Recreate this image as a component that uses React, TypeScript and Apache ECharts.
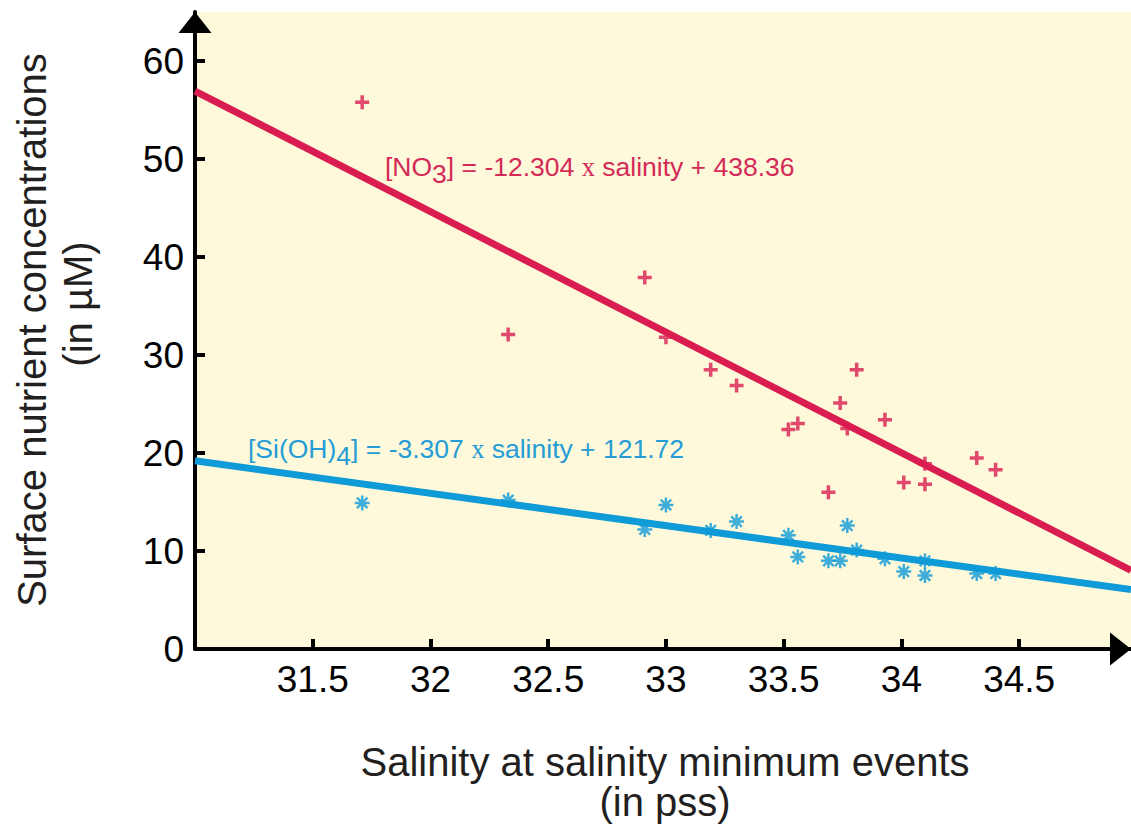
import React, { useEffect, useRef } from 'react';
import * as echarts from 'echarts';

// Salinity at salinity minimum events (pss)
const salinity = [31.71, 32.33, 32.91, 33.0, 33.19, 33.3, 33.52, 33.56, 33.69, 33.74, 33.77, 33.81, 33.93, 34.01, 34.1, 34.1, 34.32, 34.4];
// [NO3] (µM)
const no3 = [55.8, 32.1, 37.9, 31.8, 28.5, 26.9, 22.4, 23.0, 16.0, 25.1, 22.5, 28.5, 23.4, 17.0, 18.9, 16.8, 19.5, 18.3];
// [Si(OH)4] (µM)
const sioh4 = [14.9, 15.2, 12.2, 14.7, 12.1, 13.0, 11.6, 9.4, 9.0, 9.0, 12.6, 10.1, 9.2, 7.9, 9.0, 7.5, 7.7, 7.7];

// Regression coefficients as printed on the chart
const NO3_SLOPE = -12.304;
const NO3_INTERCEPT = 438.36;
const SI_SLOPE = -3.307;
const SI_INTERCEPT = 121.72;

const xTicks = [31.5, 32, 32.5, 33, 33.5, 34, 34.5];
const yTicks = [0, 10, 20, 30, 40, 50, 60];
const X_MIN = 31;
const X_MAX = 34.975;
const Y_MIN = 0;
const Y_MAX = 65;

const RED = '#DA1D50';
const RED_TEXT = '#D42A58';
const BLUE = '#0F9AD8';
const BLUE_TEXT = '#259CD6';
const BG = '#FEF9DA';
const INK = '#231F20';

const PLUS = 'path://M5,0L5,10M0,5L10,5';
const STAR = 'path://M5,0L5,10M0,5L10,5M1.5,1.5L8.5,8.5M8.5,1.5L1.5,8.5';

export default function App() {
  const ref = useRef<HTMLDivElement>(null);
  useEffect(() => {
    if (!ref.current) return;
    const chart = echarts.init(ref.current, null, { renderer: 'svg' });
    const fit = (m: number, b: number) => [X_MIN, X_MAX].map((x) => [x, m * x + b]);
    const eqRich = (color: string) => ({
      a: { fontSize: 26.5, fontFamily: 'Liberation Sans, Arial, sans-serif', fill: color },
      s: { fontSize: 26.5, fontFamily: 'Liberation Sans, Arial, sans-serif', fill: color, padding: [14, 0, 0, 0] },
      x: { fontSize: 26.5, fontFamily: 'Liberation Serif, Times New Roman, serif', fill: color },
    });
    const titleFont = 'Liberation Sans, Arial, sans-serif';
    const axisLine = {
      lineStyle: { color: '#000', width: 4 },
      symbol: ['none', 'triangle'],
      symbolSize: [33, 21],
      symbolOffset: [0, -10.5],
    };
    chart.setOption({
      animation: false,
      grid: {
        left: 195,
        right: 0,
        top: 12,
        bottom: 178,
        show: true,
        backgroundColor: BG,
        borderWidth: 0,
      },
      xAxis: {
        type: 'value',
        min: X_MIN,
        max: X_MAX,
        splitLine: { show: false },
        axisLine,
        axisTick: { inside: true, length: 10, lineStyle: { color: '#000', width: 4 }, customValues: xTicks },
        axisLabel: {
          customValues: xTicks,
          fontSize: 37,
          color: '#000',
          fontFamily: 'Liberation Sans, Arial, sans-serif',
          margin: 12,
        },
      },
      yAxis: {
        type: 'value',
        min: Y_MIN,
        max: Y_MAX,
        splitLine: { show: false },
        axisLine,
        axisTick: { inside: true, length: 10, lineStyle: { color: '#000', width: 4 }, customValues: yTicks },
        axisLabel: {
          customValues: yTicks,
          fontSize: 37,
          color: '#000',
          fontFamily: 'Liberation Sans, Arial, sans-serif',
          margin: 11,
        },
      },
      series: [
        {
          type: 'line',
          data: fit(SI_SLOPE, SI_INTERCEPT),
          symbol: 'none',
          lineStyle: { color: BLUE, width: 7 },
          z: 2,
        },
        {
          type: 'line',
          data: fit(NO3_SLOPE, NO3_INTERCEPT),
          symbol: 'none',
          lineStyle: { color: RED, width: 7 },
          z: 2,
        },
        {
          type: 'scatter',
          data: salinity.map((s, i) => [s, sioh4[i]]),
          symbol: STAR,
          symbolSize: 15,
          itemStyle: { color: 'none', borderColor: BLUE, borderWidth: 2.5 },
          z: 3,
        },
        {
          type: 'scatter',
          data: salinity.map((s, i) => [s, no3[i]]),
          symbol: PLUS,
          symbolSize: 14,
          itemStyle: { color: 'none', borderColor: RED, borderWidth: 3.5 },
          z: 3,
        },
      ],
      graphic: [
        {
          type: 'text',
          x: 385,
          y: 167,
          z: 10,
          style: {
            text: '{a|[NO}{s|3}{a|] = -12.304 }{x|x}{a| salinity + 438.36}',
            rich: eqRich(RED_TEXT),
            verticalAlign: 'middle',
            align: 'left',
          },
        },
        {
          type: 'text',
          x: 248,
          y: 449,
          z: 10,
          style: {
            text: '{a|[Si(OH)}{s|4}{a|] = -3.307 }{x|x}{a| salinity + 121.72}',
            rich: eqRich(BLUE_TEXT),
            verticalAlign: 'middle',
            align: 'left',
          },
        },
        {
          type: 'text',
          x: 32,
          y: 330,
          rotation: Math.PI / 2,
          style: {
            text: 'Surface nutrient concentrations',
            font: `40px ${titleFont}`,
            fill: INK,
            align: 'center',
            verticalAlign: 'middle',
          },
        },
        {
          type: 'text',
          x: 78,
          y: 304,
          rotation: Math.PI / 2,
          style: {
            text: '(in µM)',
            font: `40px ${titleFont}`,
            fill: INK,
            align: 'center',
            verticalAlign: 'middle',
          },
        },
        {
          type: 'text',
          x: 665,
          y: 762,
          style: {
            text: 'Salinity at salinity minimum events',
            font: `40px ${titleFont}`,
            fill: INK,
            align: 'center',
            verticalAlign: 'middle',
          },
        },
        {
          type: 'text',
          x: 665,
          y: 802,
          style: {
            text: '(in pss)',
            font: `40px ${titleFont}`,
            fill: INK,
            align: 'center',
            verticalAlign: 'middle',
          },
        },
      ],
    });
    return () => chart.dispose();
  }, []);
  return (
    <div
      ref={ref}
      style={{ position: 'absolute', left: 0, top: 0, width: 1131, height: 827 }}
    />
  );
}
